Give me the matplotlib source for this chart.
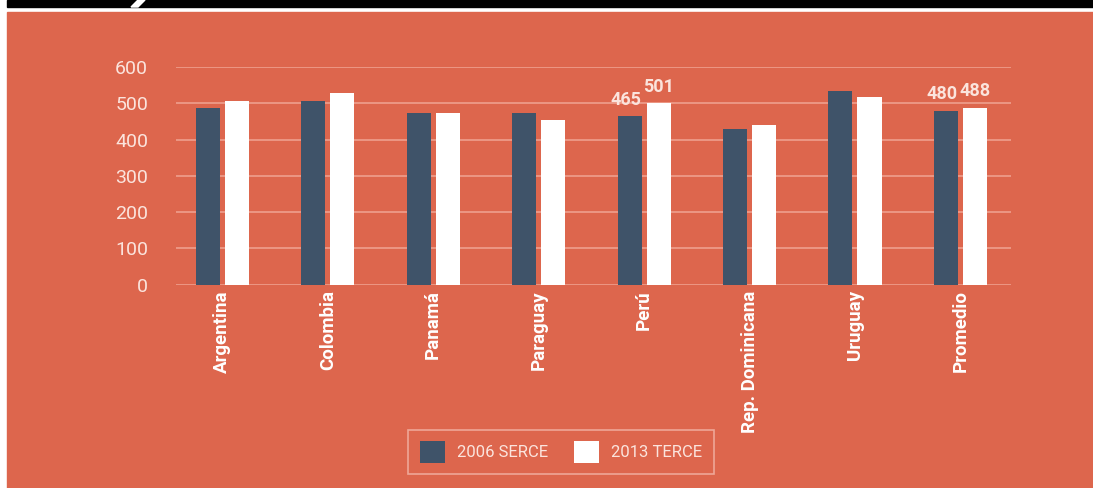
"""Puntajes SERCE 2006 vs TERCE 2013"""
import matplotlib.pyplot as plt
import matplotlib.patches as mpatches
import numpy as np

# datos
paises = ["Argentina", "Colombia", "Panamá", "Paraguay", "Perú",
          "Rep. Dominicana", "Uruguay", "Promedio"]
serce_2006 = [486, 505, 472, 472, 465, 429, 533, 480]
terce_2013 = [505, 527, 472, 453, 501, 440, 517, 488]
# etiquetas que se muestran sobre las barras (índices)
etiquetados = [4, 7]

fondo = "#DD664D"
oscuro = "#3F5369"
texto_claro = "#FBE4DD"

plt.rcParams["font.family"] = ["Roboto", "DejaVu Sans"]

fig = plt.figure(figsize=(10.93, 4.88), dpi=100)
fig.patch.set_facecolor("white")

# panel naranja y franja negra superior
fig.patches.append(mpatches.Rectangle((7 / 1093, 0), 1, 1 - 12 / 488,
                                      transform=fig.transFigure,
                                      color=fondo, zorder=-3))
fig.patches.append(mpatches.Rectangle((7 / 1093, 1 - 7 / 488), 1, 7 / 488,
                                      transform=fig.transFigure,
                                      color="black", zorder=-3))
fig.patches.append(mpatches.Polygon([(131 / 1093, 1 - 7 / 488), (138 / 1093, 1 - 7 / 488),
                                     (145 / 1093, 1), (138 / 1093, 1)],
                                    closed=True, transform=fig.transFigure,
                                    color="white", zorder=-2))

ax = fig.add_axes([176 / 1093, 1 - 284.7 / 488, 835 / 1093, 217.7 / 488])
ax.set_facecolor("none")
ax.set_zorder(1)

x = np.arange(len(paises))
ancho = 0.228
ax.bar(x - 0.138, serce_2006, ancho, color=oscuro, label="2006 SERCE", zorder=3)
ax.bar(x + 0.138, terce_2013, ancho, color="white", label="2013 TERCE", zorder=3)

# valores sobre las barras
for i in etiquetados:
    ax.text(x[i] - 0.17, serce_2006[i] + 20, str(serce_2006[i]), ha="center",
            va="bottom", color=texto_claro, fontsize=13, fontweight="bold")
    ax.text(x[i] + 0.14, terce_2013[i] + 20, str(terce_2013[i]), ha="center",
            va="bottom", color=texto_claro, fontsize=13, fontweight="bold")

ax.set_xlim(-0.44, 7.48)
ax.set_ylim(0, 600)
ax.set_yticks(range(0, 601, 100))
ax.grid(True, axis="y", color="#EE9F8D", linewidth=1.2, zorder=0)
for s in ax.spines.values():
    s.set_visible(False)
ax.tick_params(axis="both", length=0)
ax.tick_params(axis="y", labelsize=14, labelcolor=texto_claro, pad=20)
ax.set_xticks(x)
ax.set_xticklabels(paises, rotation=90, fontsize=13.5, fontweight="bold",
                   color="white")
ax.tick_params(axis="x", pad=4)

leg = fig.legend(loc="center", bbox_to_anchor=(561 / 1093, 1 - 452 / 488), ncol=2,
                 frameon=True, fontsize=12, handlelength=1.5, handleheight=1.6,
                 columnspacing=1.6, borderpad=0.7, handletextpad=0.7,
                 fancybox=False)
leg.get_frame().set_facecolor("none")
leg.get_frame().set_edgecolor("#F3B7A9")
leg.get_frame().set_linewidth(1.2)
for t in leg.get_texts():
    t.set_color(texto_claro)

fig.savefig("out.png", dpi=100, facecolor=fig.get_facecolor())
